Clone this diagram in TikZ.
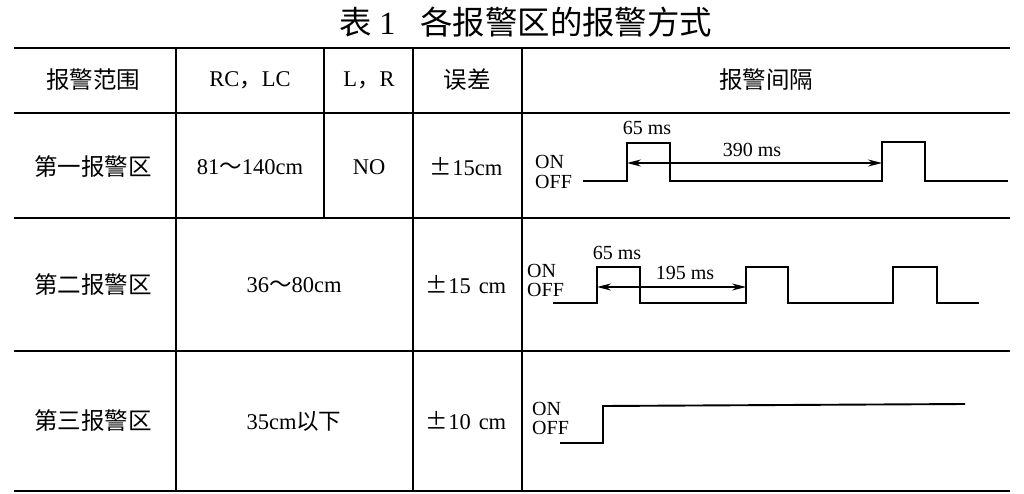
\documentclass[tikz,border=0pt]{standalone}
\usepackage{fontspec}
\setmainfont{Liberation Serif}
\newfontfamily\cjk{Noto Sans CJK SC}
\usetikzlibrary{arrows.meta}
\begin{document}
\begin{tikzpicture}[x=1pt,y=-1pt,
  grid/.style={line width=2.6pt},
  thingrid/.style={line width=1.8pt},
  wave/.style={line width=1.9pt, line join=miter},
  cell/.style={font=\fontsize{22.5}{24}\selectfont, inner sep=0pt, anchor=center},
  ccell/.style={font=\fontsize{23.5}{24}\selectfont, inner sep=0pt, anchor=center},
  lbl/.style={font=\fontsize{20}{20}\selectfont, inner sep=0pt},
  onoff/.style={font=\fontsize{20}{18}\selectfont, inner sep=0pt, anchor=west},
  dim/.style={line width=1.3pt, {Stealth[length=14pt,width=7pt]}-{Stealth[length=14pt,width=7pt]}}]

\useasboundingbox (0,0) rectangle (1024,494);
\fill[white] (0,0) rectangle (1024,494);

% title
\node[inner sep=0pt, font=\fontsize{32.4}{34}\selectfont] (title) at (526,22)
  {\cjk 表\hspace{7pt}{\rmfamily 1}\hspace{25pt}各报警区的报警方式};

% table rules
\draw[grid] (14,48) -- (1010,48);
\draw[grid] (14,113) -- (1010,113);
\draw[grid] (14,218) -- (1010,218);
\draw[grid] (14,351) -- (1010,351);
\draw[grid] (14,491) -- (1010,491);
\draw[grid] (176,48) -- (176,491);
\draw[thingrid] (324,48) -- (324,218);
\draw[grid] (413,48) -- (413,491);
\draw[grid] (522,48) -- (522,491);

% header row
\node[ccell] (h1) at (93,80) {\cjk 报警范围};
\node[cell] (h2) at (250,80) {RC\cjk ，\rmfamily LC};
\node[cell] (h3) at (369,80) {L\cjk ，\rmfamily R};
\node[ccell] (h4) at (467,80) {\cjk 误差};
\node[ccell] (h5) at (766,80) {\cjk 报警间隔};

% row 1
\node[ccell] (r1a) at (93,167) {\cjk 第一报警区};
\node[cell] (r1b) at (250,167) {81{\cjk ～}140cm};
\node[cell] (r1c) at (369,167) {NO};
\node[cell] (r1d) at (466,167) {{\cjk ±}15cm};

% row 2
\node[ccell] (r2a) at (93,285) {\cjk 第二报警区};
\node[cell] (r2b) at (294,285) {36{\cjk ～}80cm};
\node[cell] (r2d) at (466,285) {{\cjk ±}15\hspace{8pt}cm};

% row 3
\node[ccell] (r3a) at (93,421) {\cjk 第三报警区};
\node[cell] (r3b) at (294,421) {35cm{\cjk 以下}};
\node[cell] (r3d) at (466,421) {{\cjk ±}10\hspace{8pt}cm};

% waveform 1
\node[onoff] (on1) at (535,162) {ON};
\node[onoff] (off1) at (535,182) {OFF};
\draw[wave] (583,181) -- (627,181) -- (627,143) -- (670,143) -- (670,181)
  -- (882,181) -- (882,142) -- (925,142) -- (925,181) -- (1008,181);
\coordinate (w1a) at (627,163);
\coordinate (w1b) at (882,163);
\draw[dim] (w1a) -- (w1b);
\node[lbl] (t65a) at (647,128) {65 ms};
\node[lbl] (t390) at (752,150) {390 ms};

% waveform 2
\node[onoff] (on2) at (527,271) {ON};
\node[onoff] (off2) at (527,290) {OFF};
\draw[wave] (553,303) -- (597,303) -- (597,267) -- (640,267) -- (640,303)
  -- (746,303) -- (746,267) -- (788,267) -- (788,303)
  -- (893,303) -- (893,267) -- (937,267) -- (937,303) -- (979,303);
\coordinate (w2a) at (597,287);
\coordinate (w2b) at (746,287);
\draw[dim] (w2a) -- (w2b);
\node[lbl] (t65b) at (617,253) {65 ms};
\node[lbl] (t195) at (685,273) {195 ms};

% waveform 3
\node[onoff] (on3) at (532,409) {ON};
\node[onoff] (off3) at (532,428) {OFF};
\draw[wave] (560,443) -- (603,443) -- (603,406) -- (965,404);
\end{tikzpicture}
\end{document}
